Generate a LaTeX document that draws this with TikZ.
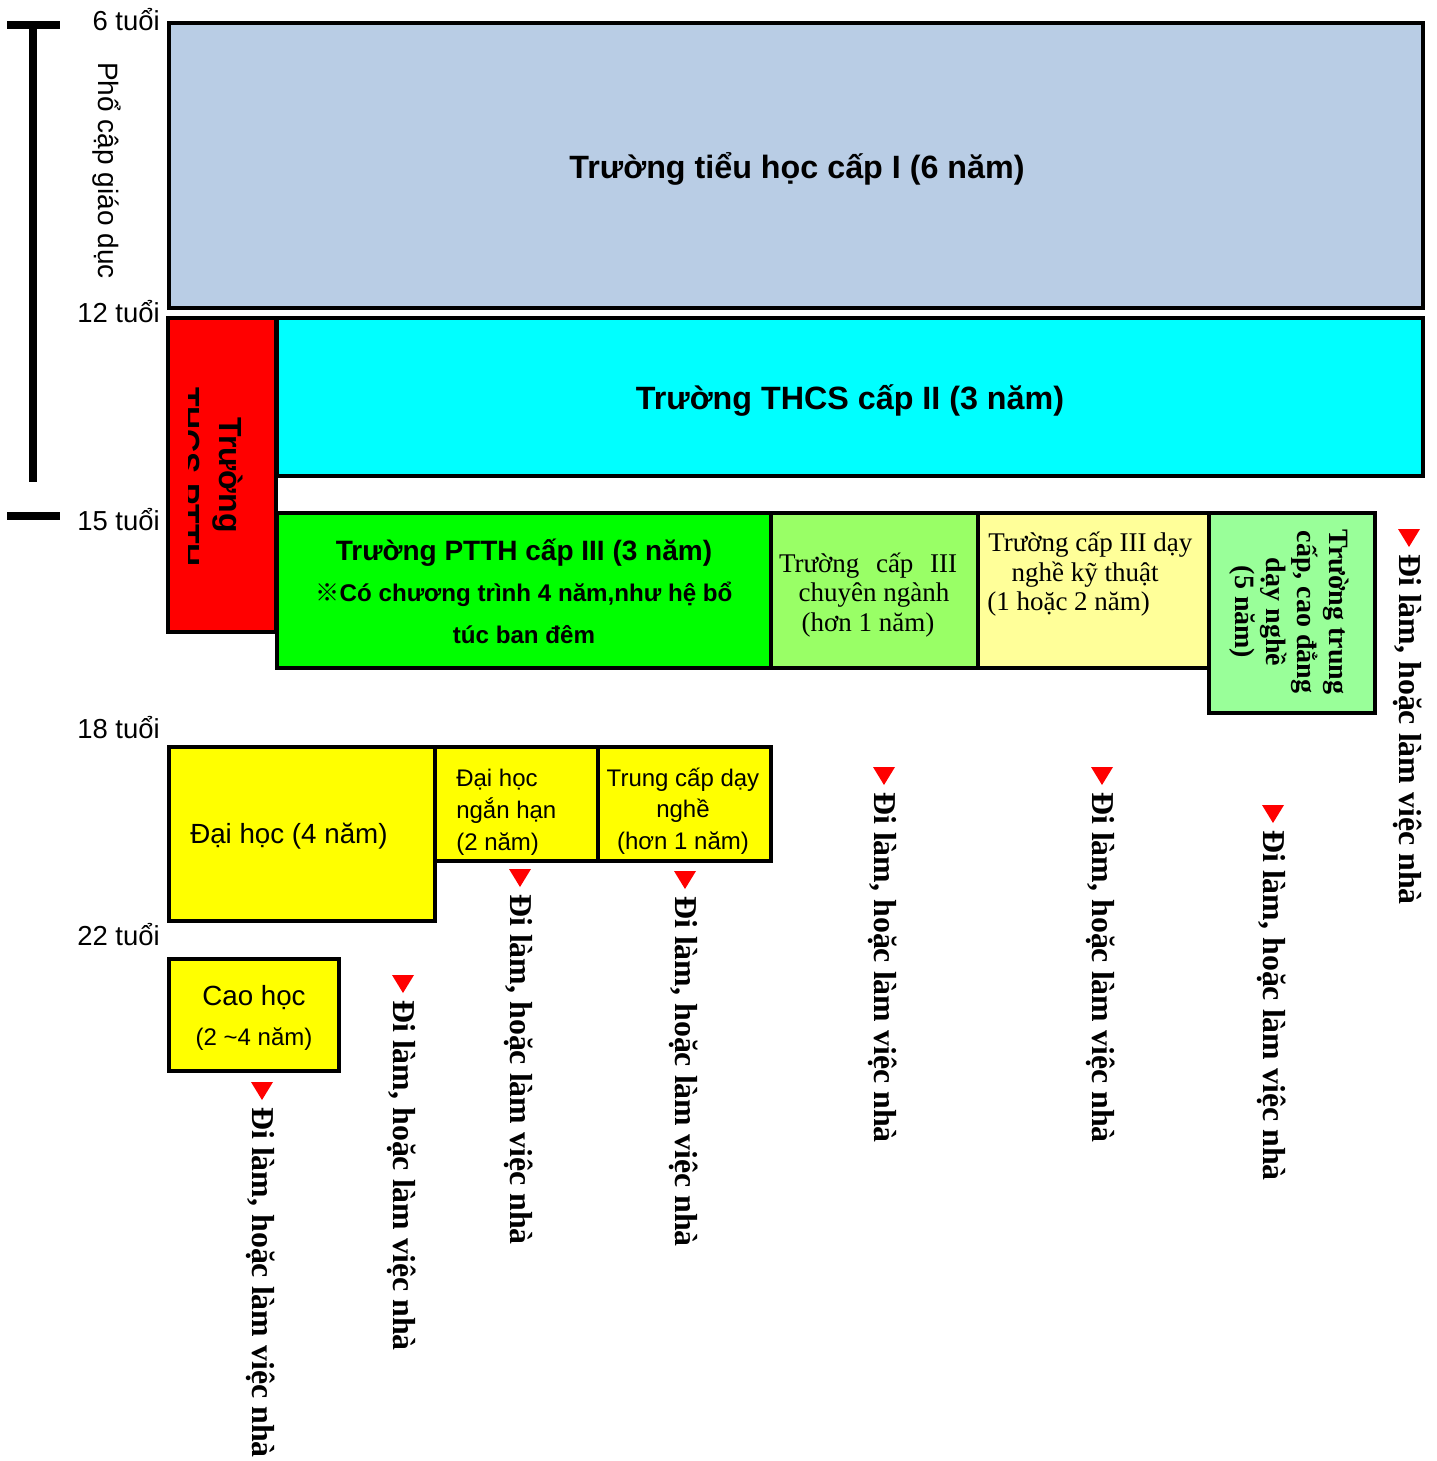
\documentclass[tikz,border=0pt]{standalone}
\usepackage{fontspec}
\setmainfont{Liberation Sans}
\newfontfamily\tnr{Liberation Serif}
\newfontfamily\cjk{Noto Sans CJK JP}
\newcommand\fsz[2]{\fontsize{#1pt}{#2pt}\selectfont}
\definecolor{cBlue}{HTML}{B9CDE5}
\definecolor{cCyan}{HTML}{00FFFF}
\definecolor{cRed}{HTML}{FF0000}
\definecolor{cGreen}{HTML}{00FF00}
\definecolor{cLGreen}{HTML}{99FF66}
\definecolor{cLYellow}{HTML}{FFFF99}
\definecolor{cPGreen}{HTML}{99FF99}
\definecolor{cYellow}{HTML}{FFFF00}
\newcommand\bx[6]{\node[box,fill=#6,minimum width={(#4-#2)*0.75pt},minimum height={(#5-#3)*0.75pt}] (#1) at (#2,#3) {};}
\newcommand\goout[3]{%
  \fill[red] (#2-11,#3) -- (#2+11,#3) -- (#2,#3+18) -- cycle;
  \node[go] (#1) at (#2-10,#3+25) {Đi làm, hoặc làm việc nhà};}
\begin{document}
\begin{tikzpicture}[x=0.75pt,y=-0.75pt,
  box/.style={draw=black,line width=3pt,anchor=north west,inner sep=0pt,outer sep=0pt},
  age/.style={font=\fsz{20.6}{24},anchor=base east,inner sep=0pt},
  go/.style={font=\tnr\bfseries\fsz{23.9}{28},rotate=-90,anchor=base west,inner sep=0pt},
  tx/.style={inner sep=0pt,anchor=base},
  txw/.style={inner sep=0pt,anchor=base west},
  bar/.style={line width=5.5pt}]
\useasboundingbox (0,0) rectangle (1437,1461);
% left bar
\draw[bar] (7,25) -- (60,25);
\draw[bar] (33,25) -- (33,482);
\draw[bar] (7,516) -- (60,516);
\node[font=\fsz{21}{25},rotate=-90,anchor=base west,inner sep=0pt] (pc) at (98,62) {Phổ cập giáo dục};
% ages
\node[age] (a6) at (160,30) {6 tuổi};
\node[age] (a12) at (160,322) {12 tuổi};
\node[age] (a15) at (160,530) {15 tuổi};
\node[age] (a18) at (160,738) {18 tuổi};
\node[age] (a22) at (160,945) {22 tuổi};
% boxes
\bx{b1}{169}{23}{1423}{308}{cBlue}
\bx{b2}{277}{318}{1423}{476}{cCyan}
\bx{br}{168}{318}{276}{632}{cRed}
\bx{bg}{277}{513}{771}{668}{cGreen}
\bx{blg}{771}{513}{978}{668}{cLGreen}
\bx{bly}{978}{513}{1209}{668}{cLYellow}
\bx{bpg}{1209}{513}{1375}{713}{cPGreen}
\bx{y1}{169}{747}{435}{921}{cYellow}
\bx{y2}{435}{747}{598}{861}{cYellow}
\bx{y3}{598}{747}{771}{861}{cYellow}
\bx{y4}{169}{959}{339}{1071}{cYellow}
% titles
\node[tx,font=\bfseries\fsz{24.2}{29}] (t1) at (797,178) {Trường tiểu học cấp I (6 năm)};
\node[tx,font=\bfseries\fsz{24.2}{29}] (t2) at (850,409) {Trường THCS cấp II (3 năm)};
% red box
\begin{scope}
\clip (188,320) rectangle (274,630);
\node[tx,rotate=-90,font=\bfseries\fsz{24}{29}] (r1) at (219,475) {Trường};
\node[tx,rotate=-90,font=\bfseries\fsz{24}{29}] (r2) at (177,477) {THCS PTTH};
\end{scope}
% green box
\node[tx,font=\bfseries\fsz{21}{25}] (g1) at (524,560) {Trường PTTH cấp III (3 năm)};
\node[tx,font=\bfseries\fsz{18.1}{22}] (g2) at (524,601) {{\cjk ※}Có chương trình 4 năm,như hệ bổ};
\node[tx,font=\bfseries\fsz{18.1}{22}] (g3) at (524,643) {túc ban đêm};
% light green
\node[tx,font=\tnr\fsz{20.25}{24}] (lg1) at (868,572) {\makebox[133.5pt][s]{Trường\hfill cấp\hfill III}};
\node[tx,font=\tnr\fsz{20.25}{24}] (lg2) at (874,601) {chuyên ngành};
\node[tx,font=\tnr\fsz{20.25}{24}] (lg3) at (868,631) {(hơn 1 năm)};
% light yellow
\node[txw,font=\tnr\fsz{20.25}{24}] (ly1) at (988,551) {Trường cấp III dạy};
\node[tx,font=\tnr\fsz{20.25}{24}] (ly2) at (1085,581) {nghề kỹ thuật};
\node[txw,font=\tnr\fsz{20.25}{24}] (ly3) at (987,610) {(1 hoặc 2 năm)};
% pale green rotated
\node[inner sep=0pt,rotate=-90,align=center,font=\tnr\bfseries\fsz{21}{23.6}] (pg) at (1289,612)
  {Trường trung\\cấp, cao đẳng\\dạy nghề\\(5 năm)};
% yellow boxes
\node[txw,font=\fsz{20.8}{24}] (u1) at (190,843) {Đại học (4 năm)};
\node[txw,font=\fsz{18}{24}] (u2a) at (456,786) {Đại học};
\node[txw,font=\fsz{18}{24}] (u2b) at (456,818) {ngắn hạn};
\node[txw,font=\fsz{18}{24}] (u2c) at (456,850) {(2 năm)};
\node[tx,font=\fsz{18}{24}] (u3a) at (683,786) {Trung cấp dạy};
\node[tx,font=\fsz{18}{24}] (u3b) at (683,817) {nghề};
\node[tx,font=\fsz{18}{24}] (u3c) at (683,849) {(hơn 1 năm)};
\node[tx,font=\fsz{20.8}{24}] (u4a) at (254,1005) {Cao học};
\node[tx,font=\fsz{18}{24}] (u4b) at (254,1045) {(2 \textasciitilde4 năm)};
% outputs
\goout{o1}{1409}{529}
\goout{o2}{884}{767}
\goout{o3}{1102}{767}
\goout{o4}{1273}{805}
\goout{o5}{520}{869}
\goout{o6}{685}{871}
\goout{o7}{403}{975}
\goout{o8}{262}{1082}
\end{tikzpicture}
\end{document}
